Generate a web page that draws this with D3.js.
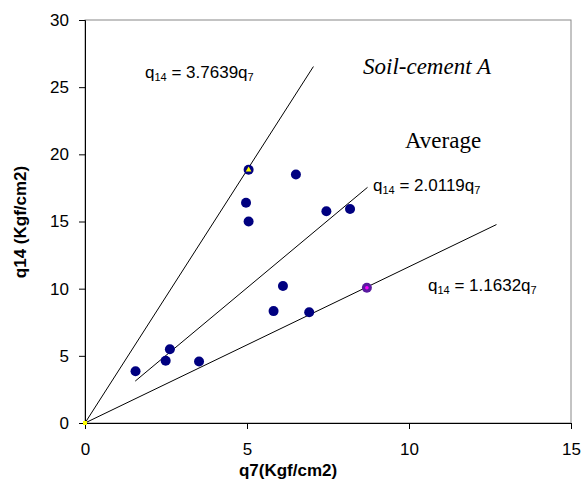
<!DOCTYPE html>
<html><head><meta charset="utf-8">
<script src="https://cdn.jsdelivr.net/npm/d3@7"></script>
<style>body{margin:0;background:#fff}</style>
</head><body>
<svg id="chart" width="587" height="480"></svg>
<script>
// measured values
const q7 = [1.56, 2.49, 2.62, 3.52, 5.05, 4.97, 5.05, 6.51, 6.11, 5.82, 6.92, 7.45, 8.18, 8.70];
const q14 = [3.85, 4.63, 5.49, 4.58, 18.85, 16.4, 15.0, 18.5, 10.2, 8.33, 8.24, 15.76, 15.93, 10.07];
const xTicks = [0, 5, 10, 15];
const yTicks = [0, 5, 10, 15, 20, 25, 30];
// fitted lines: slope, x start, x end
const fits = [
    {slope: 3.7639, x0: 0, x1: 7.05, label: "3.7639"},
    {slope: 2.0119, x0: 1.55, x1: 8.72, label: "2.0119"},
    {slope: 1.1632, x0: 0, x1: 12.7, label: "1.1632"}
];

const svg = d3.select("#chart");
const x = d3.scaleLinear().domain([0, 15]).range([85, 571]);
const y = d3.scaleLinear().domain([0, 30]).range([423, 20]);

svg.append("rect").attr("x", 85).attr("y", 20).attr("width", 486).attr("height", 403)
    .attr("fill", "none").attr("stroke", "#888");

svg.append("g").attr("transform", "translate(0,423)")
    .call(d3.axisBottom(x).tickValues(xTicks).tickSize(6).tickPadding(14))
    .call(g => g.select(".domain").attr("stroke", "#000"))
    .selectAll("text").attr("font-family", "Arial, Liberation Sans").attr("font-size", 17).attr("fill", "#000");

svg.append("g").attr("transform", "translate(85,0)")
    .call(d3.axisLeft(y).tickValues(yTicks).tickSize(6).tickPadding(10))
    .call(g => g.select(".domain").attr("stroke", "#000"))
    .selectAll("text").attr("font-family", "Arial, Liberation Sans").attr("font-size", 17).attr("fill", "#000");

svg.append("g").selectAll("line").data(fits).enter().append("line")
    .attr("x1", d => x(d.x0)).attr("y1", d => y(d.slope * d.x0))
    .attr("x2", d => x(d.x1)).attr("y2", d => y(d.slope * d.x1))
    .attr("stroke", "#000").attr("stroke-width", 1);

svg.append("g").selectAll("circle").data(q7).enter().append("circle")
    .attr("cx", d => x(d)).attr("cy", (d, i) => y(q14[i])).attr("r", 5)
    .attr("fill", (d, i) => i === 13 ? "#5a1aa0" : "#000080");

// overlay markers
svg.append("path").attr("d", d3.symbol(d3.symbolTriangle, 14)())
    .attr("transform", `translate(${x(q7[4])},${y(q14[4])})`).attr("fill", "#ffff00");
svg.append("circle").attr("cx", x(q7[13])).attr("cy", y(q14[13])).attr("r", 1.8).attr("fill", "#ff00ff");
svg.append("rect").attr("x", x(0) - 2).attr("y", y(0) - 2).attr("width", 4).attr("height", 4).attr("fill", "#ffff00");

// equation labels
const eqPos = [[145, 78], [373, 191], [428, 291]];
fits.forEach((f, i) => {
    const t = svg.append("text").attr("x", eqPos[i][0]).attr("y", eqPos[i][1])
        .attr("font-family", "Arial, Liberation Sans").attr("font-size", 17);
    t.append("tspan").text("q");
    t.append("tspan").attr("font-size", 11).attr("dy", 3).text("14");
    t.append("tspan").attr("dy", -3).text(" = " + f.label + "q");
    t.append("tspan").attr("font-size", 11).attr("dy", 3).text("7");
});

svg.append("text").attr("x", 363).attr("y", 74).attr("font-family", "Times New Roman, Liberation Serif")
    .attr("font-style", "italic").attr("font-size", 23).text("Soil-cement A");
svg.append("text").attr("x", 443).attr("y", 148).attr("text-anchor", "middle")
    .attr("font-family", "Times New Roman, Liberation Serif").attr("font-size", 23).text("Average");

svg.append("text").attr("x", 288).attr("y", 476).attr("text-anchor", "middle")
    .attr("font-family", "Arial, Liberation Sans").attr("font-weight", "bold").attr("font-size", 17)
    .text("q7(Kgf/cm2)");
svg.append("text").attr("transform", "translate(26,222) rotate(-90)").attr("text-anchor", "middle")
    .attr("font-family", "Arial, Liberation Sans").attr("font-weight", "bold").attr("font-size", 17)
    .text("q14 (Kgf/cm2)");
</script>
</body></html>
